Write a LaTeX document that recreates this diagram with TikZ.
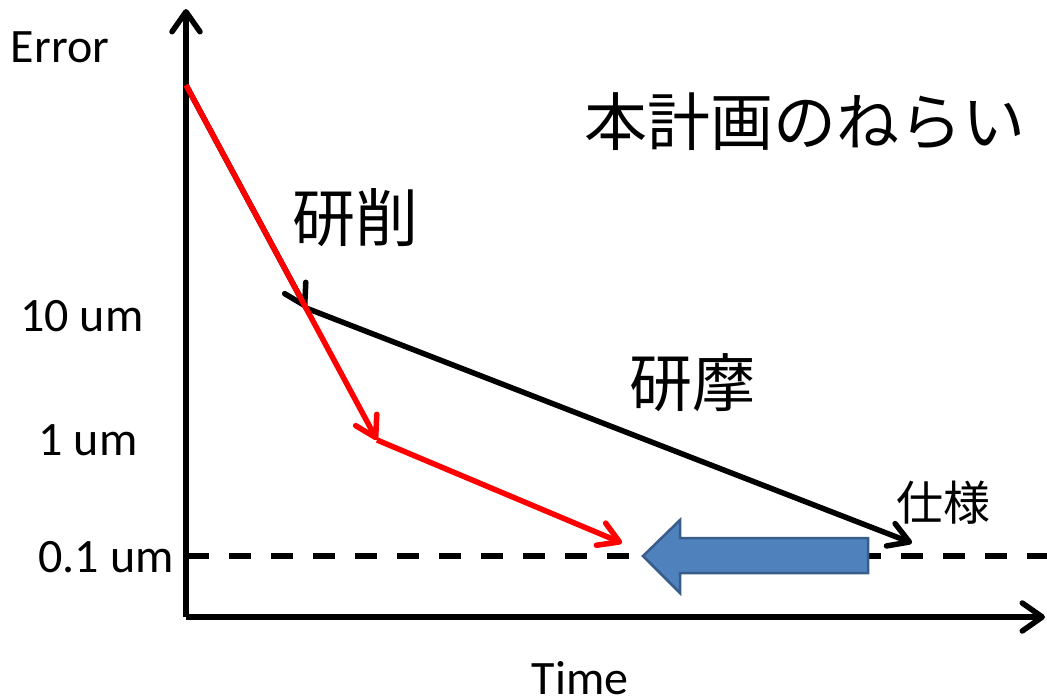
\documentclass[tikz,border=0pt]{standalone}
\usepackage{fontspec}
\setmainfont{Carlito}
\newfontfamily\jp{Noto Sans CJK JP}
\usetikzlibrary{arrows.meta}
\definecolor{redline}{RGB}{255,0,0}
\definecolor{bluefill}{RGB}{79,129,189}
\definecolor{blueedge}{RGB}{56,93,138}
\tikzset{
  axis/.style={line width=5.5pt, -{Straight Barb[length=20pt,width=28pt,line cap=round,line join=round]}},
  blackarrow/.style={line width=5.5pt, black, line cap=round, -{Straight Barb[length=20pt,width=24pt,line cap=round,line join=round]}},
  redarrow/.style={line width=5.5pt, redline, -{Straight Barb[length=20pt,width=24pt,line cap=round,line join=round]}},
  lab/.style={font=\fontsize{48}{54}\selectfont, inner sep=0pt},
  jplab/.style={font=\jp\fontsize{63}{69}\selectfont, inner sep=0pt},
}
\begin{document}
\begin{tikzpicture}[x=1pt,y=-1pt]
\useasboundingbox (0,0) rectangle (1047,698);
% coordinates
\coordinate (o) at (186,617);
\coordinate (ytop) at (186,9);
\coordinate (xend) at (1045,617);
\coordinate (start) at (186,85);
\coordinate (p1) at (306,308);
\coordinate (p2) at (912,543);
\coordinate (q1) at (377,440);
\coordinate (q2) at (622,543);
\coordinate (dl) at (187,556);
\coordinate (dr) at (1047,556);
% dashed spec line
\draw[line width=5.5pt, dash pattern=on 22pt off 20pt] (dl) -- (dr);
% axes
\draw[axis] (o) -- (ytop);
\draw[axis] (o) -- (xend);
% black process
\draw[blackarrow] (start) -- (p1);
\draw[blackarrow] (p1) -- (p2);
% red process
\draw[redarrow] (start) -- (q1);
\draw[redarrow] (q1) -- (q2);
% blue block arrow
\draw[fill=bluefill, draw=blueedge, line width=2.5pt, line join=miter]
  (868,538) -- (680,538) -- (680,520) -- (643,556) -- (680,593) -- (680,573) -- (868,573) -- cycle;
% labels
\node[lab] (err) at (60,47) {Error};
\node[lab] (t10) at (82,316) {10 um};
\node[lab] (t1) at (88,440) {1 um};
\node[lab] (t01) at (106,557) {0.1 um};
\node[lab] (time) at (580,678) {Time};
\node[jplab] (title) at (805,122) {本計画のねらい};
\node[jplab] (kensaku) at (355,218) {研削};
\node[jplab] (kenma) at (692,383) {研摩};
\node[jplab, font=\jp\fontsize{47}{52}\selectfont] (shiyo) at (943,503) {仕様};
\end{tikzpicture}
\end{document}
